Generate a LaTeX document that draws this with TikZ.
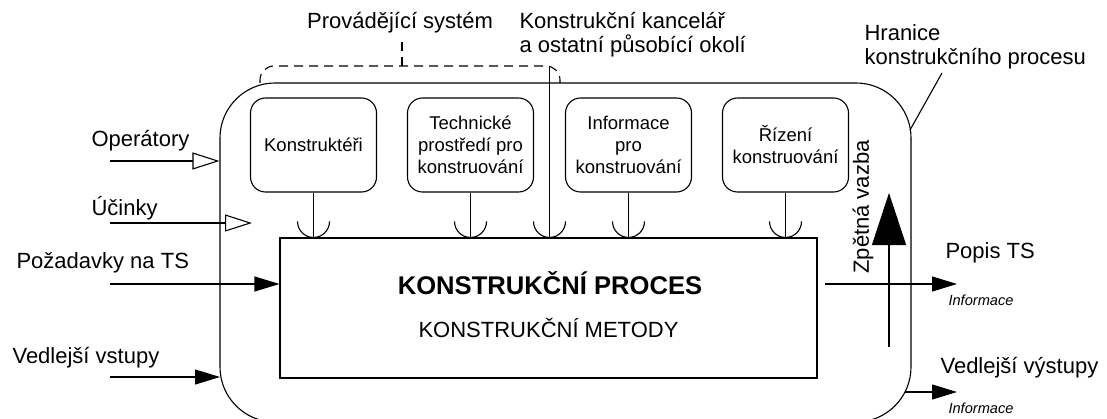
\documentclass[tikz,border=0pt]{standalone}
\usepackage{fontspec}
\setmainfont{Liberation Sans}
\usetikzlibrary{arrows.meta}
\begin{document}
\begin{tikzpicture}[x=1pt,y=1pt,
  line width=1.1pt,
  lbl/.style={font=\fontsize{22}{24}\selectfont, inner sep=0pt},
  sub/.style={draw, rounded corners=15pt, minimum width=126pt, minimum height=94pt,
    align=center, inner sep=2pt, font=\fontsize{18.5}{22}\selectfont},
  info/.style={font=\fontsize{14.6}{16}\selectfont\itshape, inner sep=0pt, anchor=west},
  filltip/.style={-{Triangle[length=25pt,width=15pt]}},
  opentip/.style={-{Triangle[open,length=27pt,width=17pt,fill=white]}},
]
\useasboundingbox (0,0) rectangle (1107,418);

% boundary of the design process (cut by the lower edge)
\begin{scope}
  \clip (0,0) rectangle (1107,418);
  \node[draw, rounded corners=55pt, minimum width=691pt, minimum height=339pt,
        inner sep=0pt] (bound) at (565.5,165.5) {};
\end{scope}

% executing system
\node[sub] (k) at (313.5,273) {Konstruktéři};
\node[sub] (t) at (470.5,273) {Technické\\prostředí pro\\konstruování};
\node[sub] (i) at (628.5,273) {Informace\\pro\\konstruování};
\node[sub] (r) at (785.5,273) {Řízení\\konstruování};

% the process itself
\node[draw, minimum width=537pt, minimum height=140pt, inner sep=0pt] (main) at (548.5,110) {};
\node[font=\fontsize{25.6}{28}\selectfont\bfseries, inner sep=0pt] (proc) at (550,135) {KONSTRUKČNÍ PROCES};
\node[font=\fontsize{22}{24}\selectfont, inner sep=0pt] (met) at (548.5,90) {KONSTRUKČNÍ METODY};

% inputs from the executing system, with sockets on the process box
\coordinate (kk) at (549.5,352);
\foreach \n in {k,t,i,r,kk}{
  \draw (\n.south) -- (\n.south |- main.north);
  \draw ([xshift=-16pt,yshift=16pt]\n.south |- main.north) arc[start angle=180,end angle=360,radius=16pt];
}

% top labels
\node[lbl] (ps) at (400,395) {Provádějící systém};
\coordinate (br) at (402,352);
\draw[dashed, dash pattern=on 9pt off 6pt] (br) -- (402,377);
\draw[dashed, dash pattern=on 9pt off 6pt, rounded corners=14pt] (260,335) -- (260,352) -- (560,352) -- (560,335);
\node[lbl, anchor=west, align=left] (kanc) at (519,383) {Konstrukční kancelář\\a ostatní působící okolí};
\node[lbl, anchor=west, align=left] (hr) at (864,371) {Hranice\\konstrukčního procesu};
\coordinate (hrend) at (910,288);
\draw (942,345) -- (hrend);

% left inputs
\node[lbl, anchor=west] (op) at (91,277) {Operátory};
\coordinate (op0) at (110,257);
\draw[opentip] (op0) -- (bound.west |- op0);

\node[lbl, anchor=west] (uc) at (91,210) {Účinky};
\coordinate (uc0) at (110,195);
\draw[opentip] (uc0) -- (252,195);

\node[lbl, anchor=west] (pz) at (16,155) {Požadavky na TS};
\coordinate (pz0) at (110,134);
\draw[filltip] (pz0) -- (main.west |- pz0);

\node[lbl, anchor=west] (vv) at (12,60) {Vedlejší vstupy};
\coordinate (vv0) at (110,41);
\draw[filltip] (vv0) -- (220,41);

% right outputs
\node[lbl, anchor=west] (pt) at (945,165) {Popis TS};
\node[info] (in1) at (948,118) {Informace};
\coordinate (pt0) at (825,134);
\draw[filltip] (pt0) -- (957,134);

\node[lbl, anchor=west] (vy) at (940,50) {Vedlejší výstupy};
\node[info] (in2) at (948,10) {Informace};
\coordinate (vy0) at (905,26);
\draw[filltip] (vy0) -- (957,26);

% feedback
\coordinate (fb0) at (889,71);
\draw[-{Triangle[length=52pt,width=34pt]}] (fb0) -- (889,225);
\node[lbl, rotate=90] (fb) at (863,211) {Zpětná vazba};

\end{tikzpicture}
\end{document}
